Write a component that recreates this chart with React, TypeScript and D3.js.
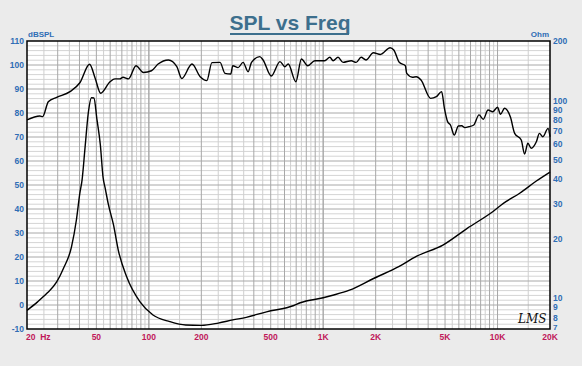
import React from "react";
import * as d3 from "d3";

const W = 582;
const H = 366;

const SPL_FREQ = [20, 23.7, 24.6, 26.5, 29.6, 35.3, 40.2, 45.7, 49.2, 52.9, 59.9, 63.9, 68.1, 71.1, 76.4, 84.4, 93, 103.5, 113, 129.5, 144.7, 154.5, 176.8, 197, 215, 230, 256, 273.5, 295, 303, 325, 347, 371, 388, 433, 452, 504, 565, 603, 630, 697, 750, 815, 896, 1020, 1092, 1140, 1217, 1300, 1450, 1545, 1650, 1760, 1940, 2130, 2420, 2540, 2740, 2960, 3015, 3250, 3420, 3640, 4130, 4460, 4780, 4960, 5170, 5370, 5650, 5960, 6230, 6500, 6870, 7310, 7830, 8290, 8820, 9380, 10000, 10400, 10980, 11870, 12540, 13680, 14300, 14930, 15600, 16700, 17400, 18200, 19500, 20000];
const SPL_DB = [77.1, 78.75, 78.5, 84.7, 86.5, 88.9, 92.6, 100.3, 94.5, 88.2, 93, 94.2, 94.2, 94.9, 94.2, 99.7, 96.9, 97.6, 100.4, 102.1, 99.3, 94.4, 100.4, 95.1, 93.5, 101, 101.1, 96.5, 96.25, 99.7, 98.9, 101.1, 97.2, 101.1, 103.5, 102.1, 95.4, 101.4, 99.3, 100.4, 93, 102.5, 99.7, 101.8, 101.8, 103.2, 101.8, 103.2, 101.1, 101.8, 101.1, 103.2, 102.1, 105.1, 104.4, 107.2, 106.25, 101, 99.7, 96.5, 94.9, 95.1, 93.75, 86.1, 86.8, 88.9, 81.9, 76.4, 75, 70.8, 74.6, 74.7, 73.9, 74.3, 75, 79.2, 77.4, 81.25, 80.5, 82.4, 79.5, 82, 78.2, 71.5, 68.75, 62.9, 67.4, 65.3, 68, 71.5, 70.1, 73.6, 70.1];

const IMP_FREQ = [20, 23, 26, 29.6, 32.4, 36, 38.4, 40.2, 41.4, 43.1, 44.9, 46.9, 48.4, 50.4, 52.7, 54.6, 56.2, 58.5, 62.7, 66.8, 74.5, 89, 105.6, 131.9, 162.6, 200, 250, 303, 362, 473, 679, 739, 1000, 1150, 1414, 1945, 2730, 3420, 4860, 6700, 9380, 10850, 13400, 16700, 20000];
const IMP_OHM = [8.7, 9.6, 10.6, 12.1, 14.2, 18.2, 24.9, 34, 39.7, 58.5, 86, 103.4, 103, 80, 59.6, 41, 36, 30, 23.5, 17.5, 12.9, 9.6, 8.24, 7.63, 7.33, 7.3, 7.5, 7.78, 8.02, 8.55, 9.2, 9.5, 10.07, 10.4, 11, 12.6, 14.5, 16.3, 18.6, 22.6, 27.4, 30.3, 34, 39.2, 43.5];

const X_TICKS = [20, 50, 100, 200, 500, 1000, 2000, 5000, 10000, 20000];
const X_LABELS = ["20  Hz", "50", "100", "200", "500", "1K", "2K", "5K", "10K", "20K"];
const DB_TICKS = [110, 100, 90, 80, 70, 60, 50, 40, 30, 20, 10, 0, -10];
const OHM_TICKS = [200, 100, 90, 80, 70, 60, 50, 40, 30, 20, 10, 9, 8, 7];

const M = { left: 27, right: 550, top: 41, bottom: 329 };

export default function App() {
  const x = d3.scaleLog().domain([20, 20000]).range([M.left, M.right]);
  const y = d3.scaleLinear().domain([-10, 110]).range([M.bottom, M.top]);
  const yo = d3.scaleLog().domain([7, 200]).range([M.bottom, M.top]);

  const vMajor: number[] = [];
  const vMinor: number[] = [];
  for (let dec = 10; dec <= 10000; dec *= 10) {
    for (let m = 2; m <= 20; m++) {
      const v = (dec * m) / 2;
      if (v <= 20 || v >= 20000) continue;
      if (m % 2 === 0) vMajor.push(v);
      else vMinor.push(v);
    }
  }
  const hMinor: number[] = [];
  for (let v = -8; v < 110; v += 2) if (v % 10 !== 0) hMinor.push(v);
  const hMajor = DB_TICKS.filter((v) => v > -10 && v < 110);

  const splLine = d3
    .line<number>()
    .x((_, i) => x(SPL_FREQ[i]))
    .y((d) => y(d))
    .curve(d3.curveMonotoneX);
  const impLine = d3
    .line<number>()
    .x((_, i) => x(IMP_FREQ[i]))
    .y((d) => yo(d))
    .curve(d3.curveMonotoneX);

  const blue = "#2f6db5";
  const red = "#c0185a";
  const font = "'Liberation Sans', Arial, sans-serif";

  return (
    <svg
      width={W}
      height={H}
      style={{ position: "absolute", left: 0, top: 0 }}
      fontFamily={font}
    >
      <rect x={0} y={0} width={W} height={H} fill="#ebebeb" />
      <text
        x={290}
        y={30}
        textAnchor="middle"
        fontSize={21}
        fontWeight="bold"
        fill="#3d6f8d"
      >
        SPL vs Freq
      </text>
      <rect x={230} y={33} width={119} height={2} fill="#3d6f8d" />

      <rect
        x={M.left}
        y={M.top}
        width={M.right - M.left}
        height={M.bottom - M.top}
        fill="#ffffff"
      />
      {hMinor.map((v) => (
        <line key={"hm" + v} x1={M.left} x2={M.right} y1={y(v)} y2={y(v)} stroke="#d4d4d4" strokeWidth={1} />
      ))}
      {vMinor.map((v) => (
        <line key={"vm" + v} x1={x(v)} x2={x(v)} y1={M.top} y2={M.bottom} stroke="#cfcfcf" strokeWidth={1} />
      ))}
      {vMajor.map((v) => (
        <line key={"vM" + v} x1={x(v)} x2={x(v)} y1={M.top} y2={M.bottom} stroke="#a8a8a8" strokeWidth={1} />
      ))}
      {hMajor.map((v) => (
        <line key={"hM" + v} x1={M.left} x2={M.right} y1={y(v)} y2={y(v)} stroke="#a8a8a8" strokeWidth={1} />
      ))}

      <path d={impLine(IMP_OHM) || ""} fill="none" stroke="#000" strokeWidth={1.4} />
      <path d={splLine(SPL_DB) || ""} fill="none" stroke="#000" strokeWidth={1.4} />

      <rect
        x={M.left}
        y={M.top}
        width={M.right - M.left}
        height={M.bottom - M.top}
        fill="none"
        stroke="#000"
        strokeWidth={1.5}
      />

      {DB_TICKS.map((v) => (
        <text key={"dl" + v} x={24} y={y(v) + 3} textAnchor="end" fontSize={8.5} fontWeight="bold" fill={blue}>
          {v}
        </text>
      ))}
      {OHM_TICKS.map((v) => (
        <text
          key={"ol" + v}
          x={553}
          y={yo(v) + (v === 7 ? 0.5 : 3)}
          textAnchor="start"
          fontSize={v === 7 ? 8 : 8.5}
          fontWeight="bold"
          fill={blue}
        >
          {v}
        </text>
      ))}
      {X_TICKS.map((v, i) => (
        <text
          key={"xl" + v}
          x={i === 0 ? 26 : x(v)}
          y={339.5}
          textAnchor={i === 0 ? "start" : "middle"}
          fontSize={8.5}
          fontWeight="bold"
          fill={red}
          style={{ whiteSpace: "pre" }}
        >
          {X_LABELS[i]}
        </text>
      ))}
      <text x={28} y={37} fontSize={8} fontWeight="bold" fill={blue}>
        dBSPL
      </text>
      <text x={549} y={37} textAnchor="end" fontSize={8} fontWeight="bold" fill={blue}>
        Ohm
      </text>
      <text x={518} y={323} fontSize={12} fontStyle="italic" fontFamily="'DejaVu Serif', serif" fill="#111">
        LMS
      </text>
    </svg>
  );
}
